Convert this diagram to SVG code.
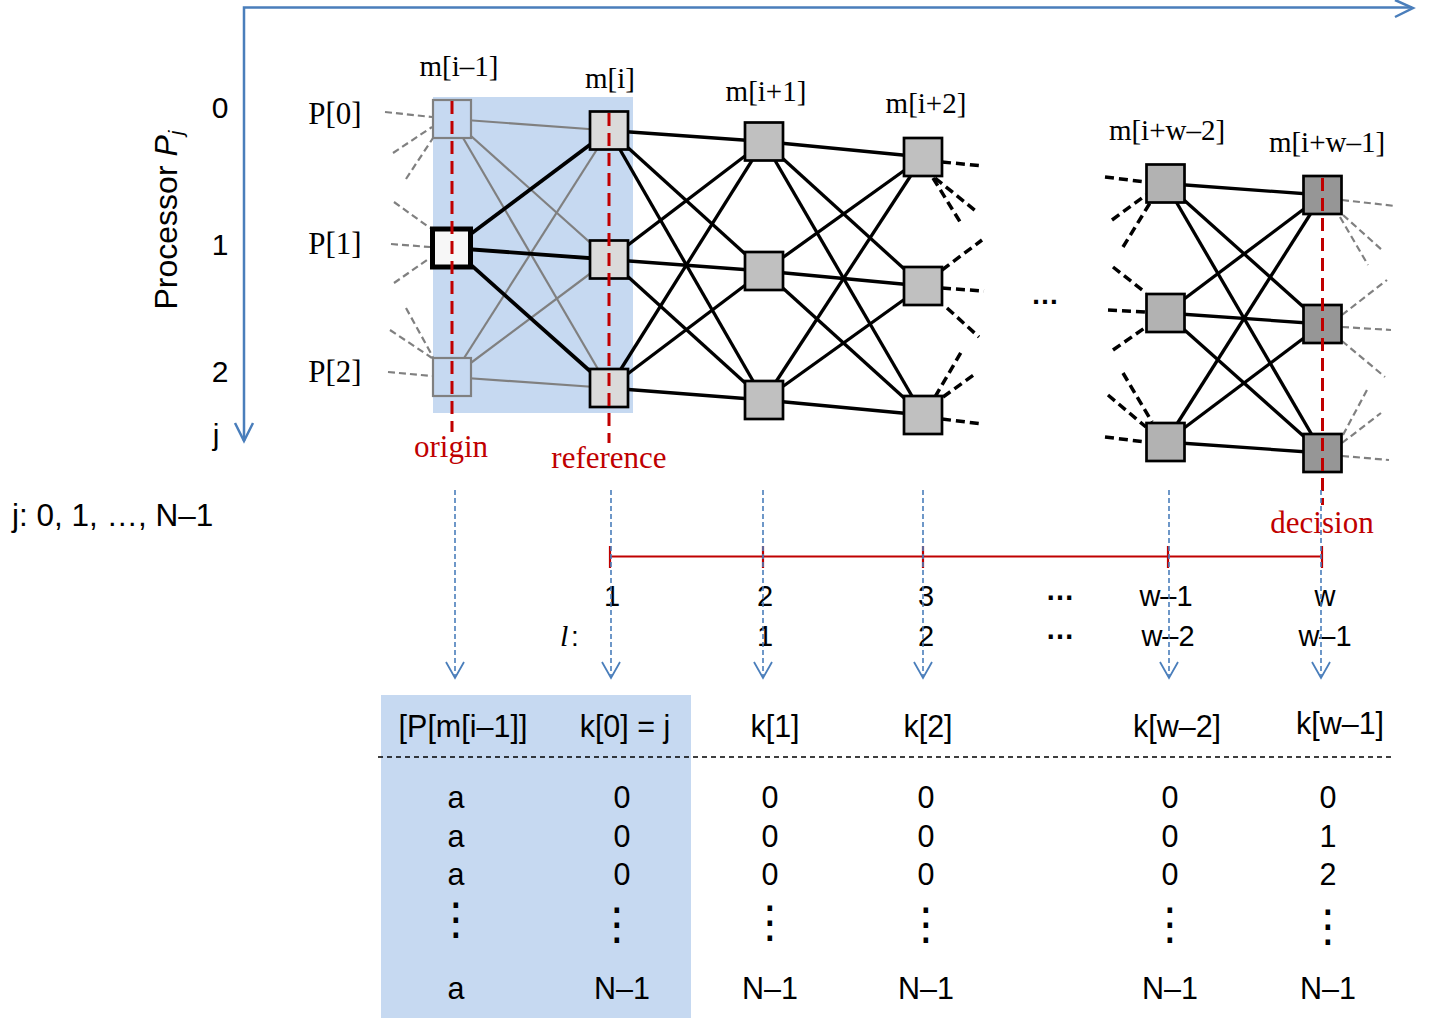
<svg xmlns="http://www.w3.org/2000/svg" width="1439" height="1018" viewBox="0 0 1439 1018">
<defs>
<style>
.sans{font-family:"Liberation Sans",Arial,sans-serif;fill:#000}
.serif{font-family:"Liberation Serif","Times New Roman",serif;fill:#000}
.red{fill:#C00000}
.axis{stroke:#4A7EBB;stroke-width:2.5;fill:none}
.gedge{stroke:#808080;stroke-width:2.2;fill:none}
.bedge{stroke:#000;stroke-width:3.3;fill:none}
.bthick{stroke:#000;stroke-width:3.8;fill:none}
.bstub{stroke:#000;stroke-width:3.5;stroke-dasharray:9 5;fill:none}
.gstub{stroke:#808080;stroke-width:2.2;stroke-dasharray:7 4;fill:none}
.rdash{stroke:#C00000;stroke-width:3;stroke-dasharray:13 7;fill:none}
.bdash{stroke:#4A7EBB;stroke-width:1.6;stroke-dasharray:5 3;fill:none}
.n0{fill:#C6D9F1;stroke:#808080;stroke-width:2.2}
.n1{fill:#DADADA;stroke:#000;stroke-width:2.7}
.n2{fill:#C0C0C0;stroke:#000;stroke-width:2.7}
.n4{fill:#B2B2B2;stroke:#000;stroke-width:2.7}
.n5{fill:#969696;stroke:#000;stroke-width:2.7}
.tab{font-size:30.5px;text-anchor:middle}
.tl{font-size:29px;text-anchor:middle}
.ml{font-size:29px;text-anchor:middle}
.vd{font-family:"DejaVu Sans",sans-serif;font-size:44px;text-anchor:middle;fill:#000}
</style>
<marker id="vhead" viewBox="0 0 20 20" refX="18" refY="10" markerWidth="20" markerHeight="20" markerUnits="userSpaceOnUse" orient="auto">
<path d="M2 1 L18 10 L2 19" fill="none" stroke="#4A7EBB" stroke-width="1.8"/>
</marker>
</defs>
<rect width="1439" height="1018" fill="#fff"/>

<!-- backgrounds -->
<rect x="433" y="97" width="200" height="316" fill="#C6D9F1"/>
<rect x="381" y="695" width="310" height="323" fill="#C6D9F1"/>

<!-- axes -->
<g id="axes">
<path class="axis" d="M244 441 V7.5 H1412"/>
<path class="axis" d="M1395 0 L1413 8 L1395 17"/>
<path class="axis" d="M235 423 L244 441 L253 423"/>
<text class="sans" x="220" y="118" font-size="30" text-anchor="middle">0</text>
<text class="sans" x="220" y="255" font-size="30" text-anchor="middle">1</text>
<text class="sans" x="220" y="382" font-size="30" text-anchor="middle">2</text>
<text class="sans" x="216" y="445" font-size="30" text-anchor="middle">j</text>
<text class="sans" font-size="32" text-anchor="middle" transform="translate(177,220) rotate(-90)">Processor <tspan font-style="italic">P</tspan><tspan font-style="italic" font-size="21" dy="6">j</tspan></text>
<text class="sans" x="12" y="526" font-size="31.5">j: 0, 1, …, N–1</text>
</g>

<!-- connectors -->
<g id="connectors">
<!-- column m[i-1] -> m[i] -->
<line class="gedge" x1="452" y1="119" x2="609" y2="130.5"/>
<line class="gedge" x1="452" y1="119" x2="609" y2="259.5"/>
<line class="gedge" x1="452" y1="119" x2="609" y2="388"/>
<line class="gedge" x1="452" y1="377" x2="609" y2="130.5"/>
<line class="gedge" x1="452" y1="377" x2="609" y2="259.5"/>
<line class="gedge" x1="452" y1="377" x2="609" y2="388"/>
<line class="bthick" x1="452" y1="248" x2="609" y2="130.5"/>
<line class="bthick" x1="452" y1="248" x2="609" y2="259.5"/>
<line class="bthick" x1="452" y1="248" x2="609" y2="388"/>
<!-- m[i] -> m[i+1] -->
<line class="bedge" x1="609" y1="130.5" x2="764" y2="141.5"/>
<line class="bedge" x1="609" y1="130.5" x2="764" y2="271"/>
<line class="bedge" x1="609" y1="130.5" x2="764" y2="400"/>
<line class="bedge" x1="609" y1="259.5" x2="764" y2="141.5"/>
<line class="bedge" x1="609" y1="259.5" x2="764" y2="271"/>
<line class="bedge" x1="609" y1="259.5" x2="764" y2="400"/>
<line class="bedge" x1="609" y1="388" x2="764" y2="141.5"/>
<line class="bedge" x1="609" y1="388" x2="764" y2="271"/>
<line class="bedge" x1="609" y1="388" x2="764" y2="400"/>
<!-- m[i+1] -> m[i+2] -->
<line class="bedge" x1="764" y1="141.5" x2="923" y2="157"/>
<line class="bedge" x1="764" y1="141.5" x2="923" y2="286"/>
<line class="bedge" x1="764" y1="141.5" x2="923" y2="415"/>
<line class="bedge" x1="764" y1="271" x2="923" y2="157"/>
<line class="bedge" x1="764" y1="271" x2="923" y2="286"/>
<line class="bedge" x1="764" y1="271" x2="923" y2="415"/>
<line class="bedge" x1="764" y1="400" x2="923" y2="157"/>
<line class="bedge" x1="764" y1="400" x2="923" y2="286"/>
<line class="bedge" x1="764" y1="400" x2="923" y2="415"/>
<!-- m[i+w-2] -> m[i+w-1] -->
<line class="bedge" x1="1165.5" y1="183.5" x2="1322.5" y2="195"/>
<line class="bedge" x1="1165.5" y1="183.5" x2="1322.5" y2="324"/>
<line class="bedge" x1="1165.5" y1="183.5" x2="1322.5" y2="453"/>
<line class="bedge" x1="1165.5" y1="313" x2="1322.5" y2="195"/>
<line class="bedge" x1="1165.5" y1="313" x2="1322.5" y2="324"/>
<line class="bedge" x1="1165.5" y1="313" x2="1322.5" y2="453"/>
<line class="bedge" x1="1165.5" y1="442" x2="1322.5" y2="195"/>
<line class="bedge" x1="1165.5" y1="442" x2="1322.5" y2="324"/>
<line class="bedge" x1="1165.5" y1="442" x2="1322.5" y2="453"/>
<!-- incoming gray stubs to m[i-1] -->
<line class="gstub" x1="385" y1="112" x2="432" y2="117"/>
<line class="gstub" x1="393" y1="153" x2="432" y2="127"/>
<line class="gstub" x1="406" y1="179" x2="433" y2="138"/>
<line class="gstub" x1="394" y1="202" x2="430" y2="228"/>
<line class="gstub" x1="391" y1="244" x2="430" y2="247"/>
<line class="gstub" x1="394" y1="283" x2="430" y2="258"/>
<line class="gstub" x1="406" y1="308" x2="433" y2="357"/>
<line class="gstub" x1="390" y1="330" x2="432" y2="358"/>
<line class="gstub" x1="388" y1="372" x2="432" y2="376"/>
<!-- outgoing black stubs from m[i+2] -->
<line class="bstub" x1="942" y1="162" x2="983" y2="166"/>
<line class="bstub" x1="935" y1="178" x2="977" y2="212"/>
<line class="bstub" x1="933" y1="178" x2="962" y2="225"/>
<line class="bstub" x1="942" y1="270" x2="982" y2="240"/>
<line class="bstub" x1="942" y1="288" x2="984" y2="291"/>
<line class="bstub" x1="947" y1="308" x2="979" y2="337"/>
<line class="bstub" x1="935" y1="397" x2="963" y2="349"/>
<line class="bstub" x1="943" y1="397" x2="975" y2="374"/>
<line class="bstub" x1="942" y1="419" x2="982" y2="424"/>
<!-- incoming black stubs to m[i+w-2] -->
<line class="bstub" x1="1105" y1="177" x2="1146" y2="182"/>
<line class="bstub" x1="1112" y1="220" x2="1146" y2="195"/>
<line class="bstub" x1="1123" y1="247" x2="1150" y2="203"/>
<line class="bstub" x1="1113" y1="267" x2="1146" y2="293"/>
<line class="bstub" x1="1108" y1="310" x2="1146" y2="312"/>
<line class="bstub" x1="1113" y1="350" x2="1146" y2="327"/>
<line class="bstub" x1="1123" y1="373" x2="1152" y2="422"/>
<line class="bstub" x1="1108" y1="395" x2="1146" y2="427"/>
<line class="bstub" x1="1105" y1="437" x2="1146" y2="442"/>
<!-- outgoing gray stubs from m[i+w-1] -->
<line class="gstub" x1="1342" y1="200" x2="1395" y2="206"/>
<line class="gstub" x1="1343" y1="215" x2="1382" y2="250"/>
<line class="gstub" x1="1340" y1="217" x2="1368" y2="265"/>
<line class="gstub" x1="1342" y1="315" x2="1387" y2="280"/>
<line class="gstub" x1="1342" y1="327" x2="1391" y2="330"/>
<line class="gstub" x1="1342" y1="341" x2="1385" y2="377"/>
<line class="gstub" x1="1343" y1="435" x2="1368" y2="388"/>
<line class="gstub" x1="1342" y1="443" x2="1381" y2="413"/>
<line class="gstub" x1="1342" y1="456" x2="1389" y2="460"/>
</g>

<!-- nodes -->
<g id="col-m-i-1">
<text class="serif ml" x="459" y="76">m[i–1]</text>
<g id="node-P0"><rect class="n0" x="433" y="100" width="38" height="38"/></g>
<g id="node-P1"><rect x="432.5" y="229" width="38" height="38" fill="#F7F7F7" stroke="#000" stroke-width="5"/></g>
<g id="node-P2"><rect class="n0" x="433" y="358" width="38" height="38"/></g>
<text class="serif" x="335" y="124" font-size="31" text-anchor="middle">P[0]</text>
<text class="serif" x="335" y="254" font-size="31" text-anchor="middle">P[1]</text>
<text class="serif" x="335" y="382" font-size="31" text-anchor="middle">P[2]</text>
</g>
<g id="col-m-i">
<text class="serif ml" x="610" y="88">m[i]</text>
<g id="node-mi-0"><rect class="n1" x="590" y="111.5" width="38" height="38"/></g>
<g id="node-mi-1"><rect class="n1" x="590" y="240.5" width="38" height="38"/></g>
<g id="node-mi-2"><rect class="n1" x="590" y="369" width="38" height="38"/></g>
</g>
<g id="col-m-i1">
<text class="serif ml" x="766" y="101">m[i+1]</text>
<g id="node-mi1-0"><rect class="n2" x="745" y="122.5" width="38" height="38"/></g>
<g id="node-mi1-1"><rect class="n2" x="745" y="252" width="38" height="38"/></g>
<g id="node-mi1-2"><rect class="n2" x="745" y="381" width="38" height="38"/></g>
</g>
<g id="col-m-i2">
<text class="serif ml" x="926" y="113">m[i+2]</text>
<g id="node-mi2-0"><rect class="n2" x="904" y="138" width="38" height="38"/></g>
<g id="node-mi2-1"><rect class="n2" x="904" y="267" width="38" height="38"/></g>
<g id="node-mi2-2"><rect class="n2" x="904" y="396" width="38" height="38"/></g>
</g>
<g id="ellipsis">
<text class="sans" x="1045" y="304" font-size="28" font-weight="bold" text-anchor="middle">…</text>
</g>
<g id="col-m-iw2">
<text class="serif ml" x="1167" y="140">m[i+w–2]</text>
<g id="node-miw2-0"><rect class="n4" x="1146.5" y="164.5" width="38" height="38"/></g>
<g id="node-miw2-1"><rect class="n4" x="1146.5" y="294" width="38" height="38"/></g>
<g id="node-miw2-2"><rect class="n4" x="1146.5" y="423" width="38" height="38"/></g>
</g>
<g id="col-m-iw1">
<text class="serif ml" x="1327" y="152">m[i+w–1]</text>
<g id="node-miw1-0"><rect class="n5" x="1303.5" y="176" width="38" height="38"/></g>
<g id="node-miw1-1"><rect class="n5" x="1303.5" y="305" width="38" height="38"/></g>
<g id="node-miw1-2"><rect class="n5" x="1303.5" y="434" width="38" height="38"/></g>
</g>

<!-- red markers -->
<g id="markers">
<line class="rdash" x1="452" y1="101" x2="452" y2="432"/>
<line class="rdash" x1="609" y1="113" x2="609" y2="443"/>
<line class="rdash" x1="1322.5" y1="178" x2="1322.5" y2="505"/>
<text class="serif red" x="451" y="457" font-size="31" text-anchor="middle">origin</text>
<text class="serif red" x="609" y="468" font-size="31" text-anchor="middle">reference</text>
<text class="serif red" x="1322" y="533" font-size="31" text-anchor="middle">decision</text>
</g>

<!-- timeline -->
<g id="timeline">
<line x1="610" y1="556.5" x2="1322" y2="556.5" stroke="#C00000" stroke-width="2.2"/>
<path d="M610 546 V568 M763 546 V568 M923 546 V568 M1168 546 V568 M1322 546 V568" stroke="#C00000" stroke-width="2.2" fill="none"/>
<text class="sans tl" x="612" y="606">1</text>
<text class="sans tl" x="765" y="606">2</text>
<text class="sans tl" x="926" y="606">3</text>
<text class="sans tl" x="1060" y="600" font-weight="bold" font-size="26">…</text>
<text class="sans tl" x="1166" y="606">w–1</text>
<text class="sans tl" x="1325" y="606">w</text>
<text class="serif" x="560" y="646" font-size="30" font-style="italic">l</text>
<text class="sans" x="571" y="646" font-size="28">:</text>
<text class="sans tl" x="765" y="646">1</text>
<text class="sans tl" x="926" y="646">2</text>
<text class="sans tl" x="1060" y="639" font-weight="bold" font-size="26">…</text>
<text class="sans tl" x="1168" y="646">w–2</text>
<text class="sans tl" x="1325" y="646">w–1</text>
</g>

<!-- blue dashed arrows -->
<g id="arrows">
<line class="bdash" x1="455" y1="490" x2="455" y2="678" marker-end="url(#vhead)"/>
<line class="bdash" x1="611" y1="490" x2="611" y2="678" marker-end="url(#vhead)"/>
<line class="bdash" x1="763" y1="490" x2="763" y2="678" marker-end="url(#vhead)"/>
<line class="bdash" x1="923" y1="490" x2="923" y2="678" marker-end="url(#vhead)"/>
<line class="bdash" x1="1169" y1="490" x2="1169" y2="678" marker-end="url(#vhead)"/>
<line class="bdash" x1="1321" y1="490" x2="1321" y2="678" marker-end="url(#vhead)"/>
</g>

<!-- table -->
<g id="table">
<line x1="378" y1="757" x2="1395" y2="757" stroke="#000" stroke-width="1.6" stroke-dasharray="5 4"/>
<text class="sans tab" x="463" y="737">[P[m[i–1]]</text>
<text class="sans tab" x="625" y="737">k[0] = j</text>
<text class="sans tab" x="775" y="737">k[1]</text>
<text class="sans tab" x="928" y="737">k[2]</text>
<text class="sans tab" x="1177" y="737">k[w–2]</text>
<text class="sans tab" x="1340" y="734">k[w–1]</text>

<text class="sans tab" x="456" y="808">a</text>
<text class="sans tab" x="456" y="847">a</text>
<text class="sans tab" x="456" y="885">a</text>
<text class="sans tab" x="456" y="999">a</text>

<text class="sans tab" x="622" y="808">0</text>
<text class="sans tab" x="622" y="847">0</text>
<text class="sans tab" x="622" y="885">0</text>
<text class="sans tab" x="622" y="999">N–1</text>

<text class="sans tab" x="770" y="808">0</text>
<text class="sans tab" x="770" y="847">0</text>
<text class="sans tab" x="770" y="885">0</text>
<text class="sans tab" x="770" y="999">N–1</text>

<text class="sans tab" x="926" y="808">0</text>
<text class="sans tab" x="926" y="847">0</text>
<text class="sans tab" x="926" y="885">0</text>
<text class="sans tab" x="926" y="999">N–1</text>

<text class="sans tab" x="1170" y="808">0</text>
<text class="sans tab" x="1170" y="847">0</text>
<text class="sans tab" x="1170" y="885">0</text>
<text class="sans tab" x="1170" y="999">N–1</text>

<text class="sans tab" x="1328" y="808">0</text>
<text class="sans tab" x="1328" y="847">1</text>
<text class="sans tab" x="1328" y="885">2</text>
<text class="sans tab" x="1328" y="999">N–1</text>

<text class="vd" x="456" y="934">⋮</text>
<text class="vd" x="617" y="939">⋮</text>
<text class="vd" x="770" y="937">⋮</text>
<text class="vd" x="926" y="939">⋮</text>
<text class="vd" x="1170" y="939">⋮</text>
<text class="vd" x="1328" y="941">⋮</text>
</g>
</svg>
